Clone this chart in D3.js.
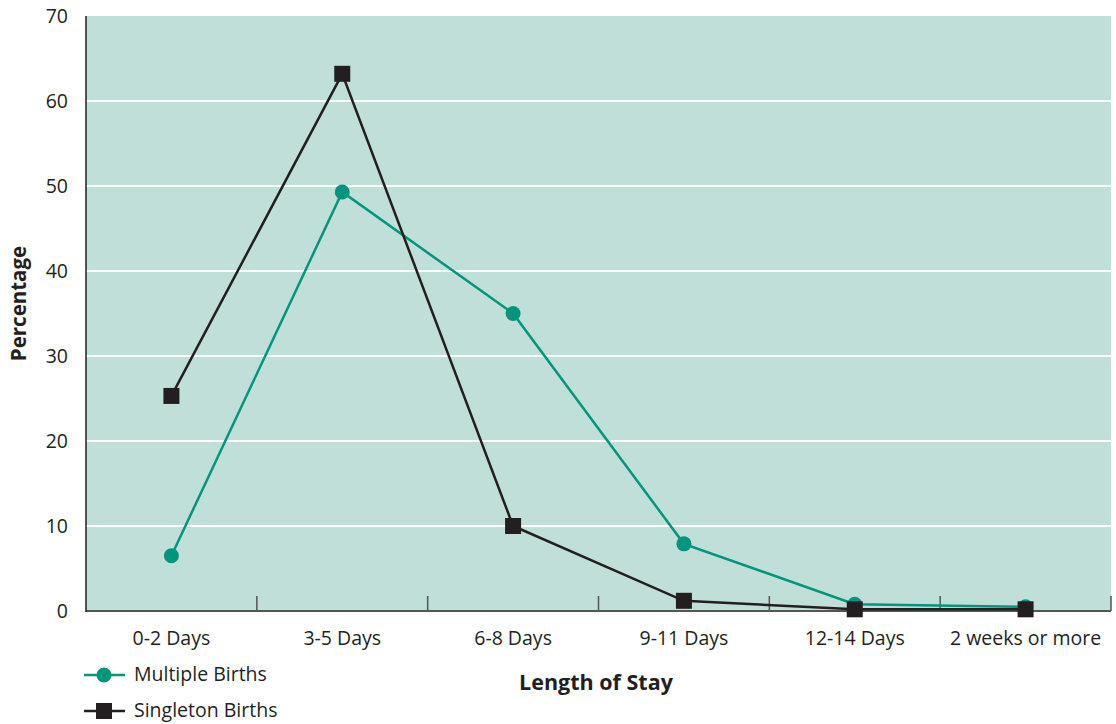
<!DOCTYPE html>
<html><head><meta charset="utf-8">
<script src="https://cdn.jsdelivr.net/npm/d3@7"></script>
<style>body{margin:0;background:#fff;} svg{display:block;font-family:"Open Sans","Noto Sans",sans-serif;}</style>
</head><body><svg id="c" width="1116" height="724"></svg>
<script>
const categories = ["0-2 Days","3-5 Days","6-8 Days","9-11 Days","12-14 Days","2 weeks or more"];
const multipleBirths = [6.5, 49.3, 35.0, 7.9, 0.8, 0.5];
const singletonBirths = [25.3, 63.2, 10.0, 1.2, 0.2, 0.2];
const yTicks = [0,10,20,30,40,50,60,70];

const svg = d3.select("#c");
const L=86, R=1111, T=16, B=611;
const x = d3.scaleBand().domain(categories).range([L,R]);
const y = d3.scaleLinear().domain([0,70]).range([B,T]);
const teal="#00957d", dark="#231f20";
const fs = 19.5;

svg.append("rect").attr("x",L).attr("y",T).attr("width",R-L).attr("height",B-T).attr("fill","#c0dfd8");
svg.append("g").selectAll("line").data(yTicks.filter(d=>d>0&&d<70)).join("line")
  .attr("x1",L).attr("x2",R).attr("y1",d=>y(d)).attr("y2",d=>y(d)).attr("stroke","#fff").attr("stroke-width",2);

svg.append("g").selectAll("line").data(categories).join("line")
  .attr("x1",d=>x(d)+x.bandwidth()).attr("x2",d=>x(d)+x.bandwidth())
  .attr("y1",B).attr("y2",B-15).attr("stroke","#555").attr("stroke-width",1.5);
svg.append("line").attr("x1",L).attr("x2",R).attr("y1",B).attr("y2",B).attr("stroke","#555").attr("stroke-width",2);
svg.append("line").attr("x1",L).attr("x2",L).attr("y1",T).attr("y2",B+1).attr("stroke",dark).attr("stroke-width",1.5);

svg.append("g").selectAll("text").data(yTicks).join("text")
  .attr("x",68).attr("y",d=>y(d)).attr("dy","0.35em").attr("text-anchor","end")
  .attr("font-size",fs).attr("fill",dark).text(d=>d);
svg.append("g").selectAll("text").data(categories).join("text")
  .attr("x",d=>x(d)+x.bandwidth()/2).attr("y",645).attr("text-anchor","middle")
  .attr("font-size",fs).attr("fill",dark).text(d=>d);

svg.append("text").attr("transform","translate(26,"+((T+B)/2-10)+") rotate(-90)").attr("text-anchor","middle")
  .attr("font-size",20.5).attr("font-weight","bold").attr("fill",dark).text("Percentage");
svg.append("text").attr("x",596).attr("y",690).attr("text-anchor","middle")
  .attr("font-size",21.5).attr("font-weight","bold").attr("fill",dark).text("Length of Stay");

const cx = d=>x(d)+x.bandwidth()/2;
const line = d3.line().x(d=>cx(d[0])).y(d=>y(d[1]));
const mData = categories.map((c,i)=>[c,multipleBirths[i]]);
const sData = categories.map((c,i)=>[c,singletonBirths[i]]);

svg.append("path").datum(mData).attr("d",line).attr("fill","none").attr("stroke",teal).attr("stroke-width",2.5);
svg.append("g").selectAll("circle").data(mData).join("circle")
  .attr("cx",d=>cx(d[0])).attr("cy",d=>y(d[1])).attr("r",7.5).attr("fill",teal);
svg.append("path").datum(sData).attr("d",line).attr("fill","none").attr("stroke",dark).attr("stroke-width",2.5);
svg.append("g").selectAll("rect").data(sData).join("rect")
  .attr("x",d=>cx(d[0])-8).attr("y",d=>y(d[1])-8).attr("width",16).attr("height",16).attr("fill",dark);

const lg = svg.append("g");
lg.append("line").attr("x1",84).attr("x2",125).attr("y1",675).attr("y2",675).attr("stroke",teal).attr("stroke-width",2.5);
lg.append("circle").attr("cx",104).attr("cy",675).attr("r",7.5).attr("fill",teal);
lg.append("text").attr("x",134).attr("y",674).attr("dy","0.35em").attr("font-size",fs).attr("fill",dark).text("Multiple Births");
lg.append("line").attr("x1",84).attr("x2",125).attr("y1",711).attr("y2",711).attr("stroke",dark).attr("stroke-width",2.5);
lg.append("rect").attr("x",96).attr("y",703).attr("width",16).attr("height",16).attr("fill",dark);
lg.append("text").attr("x",134).attr("y",710).attr("dy","0.35em").attr("font-size",fs).attr("fill",dark).text("Singleton Births");
</script></body></html>
